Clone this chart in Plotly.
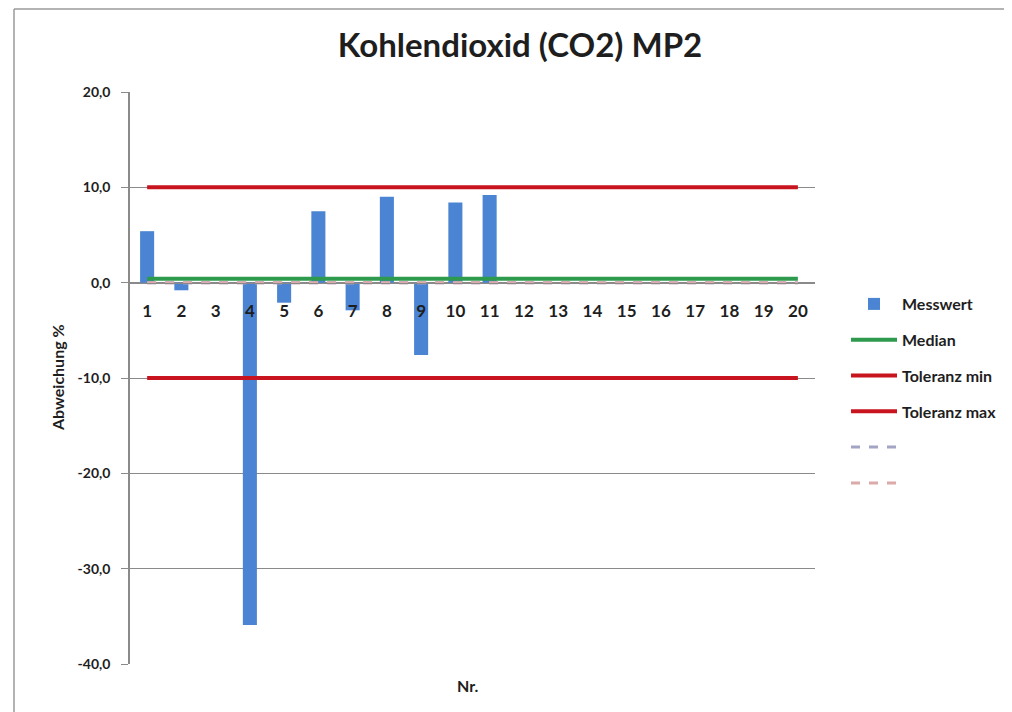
import plotly.graph_objects as go

# ---------------- data ----------------
nr = [1, 2, 3, 4, 5, 6, 7, 8, 9, 10, 11, 12, 13, 14, 15, 16, 17, 18, 19, 20]
nr_labels = ["1", "2", "3", "4", "5", "6", "7", "8", "9", "10",
             "11", "12", "13", "14", "15", "16", "17", "18", "19", "20"]
messwert = [5.4, -0.8, 0.0, -35.9, -2.1, 7.5, -2.9, 9.0, -7.6, 8.4, 9.2,
            None, None, None, None, None, None, None, None, None]
median = [0.4, 0.4, 0.4, 0.4, 0.4, 0.4, 0.4, 0.4, 0.4, 0.4,
          0.4, 0.4, 0.4, 0.4, 0.4, 0.4, 0.4, 0.4, 0.4, 0.4]
toleranz_min = [-10.0, -10.0, -10.0, -10.0, -10.0, -10.0, -10.0, -10.0, -10.0, -10.0,
                -10.0, -10.0, -10.0, -10.0, -10.0, -10.0, -10.0, -10.0, -10.0, -10.0]
toleranz_max = [10.0, 10.0, 10.0, 10.0, 10.0, 10.0, 10.0, 10.0, 10.0, 10.0,
                10.0, 10.0, 10.0, 10.0, 10.0, 10.0, 10.0, 10.0, 10.0, 10.0]
ref_a = [0.0, 0.0, 0.0, 0.0, 0.0, 0.0, 0.0, 0.0, 0.0, 0.0,
         0.0, 0.0, 0.0, 0.0, 0.0, 0.0, 0.0, 0.0, 0.0, 0.0]
ref_b = [0.0, 0.0, 0.0, 0.0, 0.0, 0.0, 0.0, 0.0, 0.0, 0.0,
         0.0, 0.0, 0.0, 0.0, 0.0, 0.0, 0.0, 0.0, 0.0, 0.0]
y_ticks = [20, 10, 0, -10, -20, -30, -40]
y_tick_labels = ["20,0", "10,0", "0,0", "-10,0", "-20,0", "-30,0", "-40,0"]

# ---------------- layout geometry ----------------
W, H = 1012, 712
OFF = 8  # page body margin in the browser
# target screen positions of the plot area
SX0, SX1, SY0, SY1 = 130, 815, 92, 664
L = SX0 - OFF
T = SY0 - OFF
R = W - (SX1 - OFF)
B = H - (SY1 - OFF)
PW, PH = SX1 - SX0, SY1 - SY0


def px_x(x):
    return (x - SX0) / PW


def px_y(y):
    return (SY1 - y) / PH


FONT = "Lato"
TXT = "#1e1e1e"
GRID = "#8a8a8a"

fig = go.Figure()
fig.add_trace(go.Bar(x=nr, y=messwert, name="Messwert", marker_color="#4a84d2",
                     marker_line_width=0, width=0.41, legendgroup="a"))
fig.add_trace(go.Scatter(x=nr, y=median, name="Median", mode="lines",
                         line=dict(color="#2e9a4e", width=4), legendgroup="b"))
fig.add_trace(go.Scatter(x=nr, y=toleranz_min, name="Toleranz min", mode="lines",
                         line=dict(color="#c8141e", width=4), legendgroup="c"))
fig.add_trace(go.Scatter(x=nr, y=toleranz_max, name="Toleranz max", mode="lines",
                         line=dict(color="#c8141e", width=4), legendgroup="d"))
fig.add_trace(go.Scatter(x=nr, y=ref_a, name=" ", mode="lines",
                         line=dict(color="#a4a4c4", width=3, dash="dash"), legendgroup="e"))
fig.add_trace(go.Scatter(x=nr, y=ref_b, name="  ", mode="lines",
                         line=dict(color="#dcaaaa", width=3, dash="dash"), legendgroup="f"))

fig.update_layout(
    width=W, height=H,
    margin=dict(l=L, r=R, t=T, b=B, autoexpand=False),
    paper_bgcolor="white", plot_bgcolor="white",
    font=dict(family=FONT, color=TXT, size=13),
    title=dict(text="<b>Kohlendioxid (CO2) MP2</b>", x=(520 - OFF) / W, xanchor="center",
               y=1 - (45 - OFF) / H, yanchor="middle",
               font=dict(size=33, family=FONT, color=TXT)),
    showlegend=True,
    legend=dict(x=px_x(846), xanchor="left", y=px_y(287), yanchor="top",
                font=dict(size=16, family=FONT, color=TXT, weight="bold"),
                tracegroupgap=12, itemwidth=46, bgcolor="rgba(0,0,0,0)"),
    bargap=0.5,
)

fig.update_xaxes(
    range=[0.5, 20.5], tickvals=nr, ticktext=nr_labels,
    showgrid=False, zeroline=False,
    showline=True, linecolor=GRID, linewidth=1,
    anchor="free", position=2 / 3,
    ticks="", ticklabelstandoff=13,
    tickfont=dict(size=17, family=FONT, color=TXT, weight="bold"),
)
fig.update_yaxes(
    range=[-40, 20], tickvals=y_ticks, ticktext=y_tick_labels,
    showgrid=True, gridcolor=GRID, gridwidth=1, zeroline=False,
    showline=True, linecolor=GRID, linewidth=1.5,
    ticks="outside", ticklen=7, tickcolor=GRID, ticklabelstandoff=8,
    tickfont=dict(size=14, family=FONT, color=TXT, weight="bold"),
)

fig.add_annotation(text="<b>Abweichung %</b>", xref="paper", yref="paper",
                   x=px_x(57), y=0.5, textangle=-90, xanchor="center", yanchor="middle",
                   showarrow=False, font=dict(size=16, family=FONT, color=TXT))
fig.add_annotation(text="<b>Nr.</b>", xref="paper", yref="paper",
                   x=px_x(468), y=px_y(685),
                   xanchor="center", yanchor="middle", showarrow=False,
                   font=dict(size=16, family=FONT, color=TXT))

# outer chart-area frame (cut off by the picture edge)
fig.add_shape(type="line", xref="paper", yref="paper",
              x0=px_x(14), x1=px_x(14), y0=px_y(9), y1=px_y(H + 20),
              line=dict(color="#9a9a9a", width=1.5), layer="below")
fig.add_shape(type="line", xref="paper", yref="paper",
              x0=px_x(14), x1=px_x(W + 20), y0=px_y(9), y1=px_y(9),
              line=dict(color="#9a9a9a", width=1.5), layer="below")

fig.write_html("out.html")
